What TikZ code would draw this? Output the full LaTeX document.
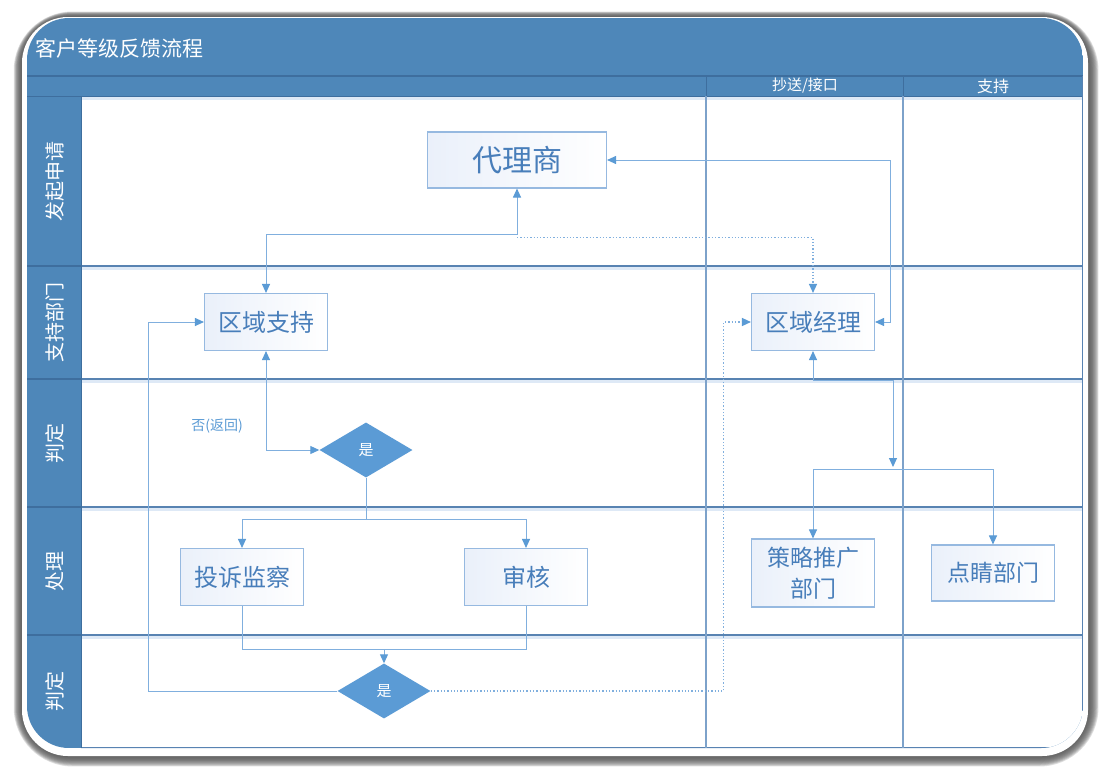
\documentclass[tikz,border=0pt]{standalone}
\usepackage{fontspec}
\setmainfont{Noto Sans CJK SC}
\usetikzlibrary{shapes.geometric,arrows.meta,calc}
\definecolor{band}{RGB}{78,135,185}
\definecolor{bandline}{RGB}{62,110,158}
\definecolor{gridc}{RGB}{88,131,178}
\definecolor{vgrid}{RGB}{125,162,202}
\definecolor{glow}{RGB}{222,233,246}
\definecolor{conn}{RGB}{91,155,213}
\definecolor{connline}{RGB}{128,175,222}
\definecolor{boxline}{RGB}{150,185,224}
\definecolor{boxtext}{RGB}{72,126,186}
\definecolor{boxtint}{RGB}{234,240,250}
\definecolor{shadowgray}{RGB}{90,90,90}
\begin{document}
\begin{tikzpicture}[x=1pt,y=-1pt,
  proc/.style={draw=boxline, line width=1.1pt, left color=boxtint, right color=white,
    text=boxtext, inner sep=0pt, align=center, minimum width=123pt, minimum height=57pt,
    font=\fontsize{24}{31}\selectfont},
  decide/.style={diamond, fill=conn, draw=none, inner sep=0pt, aspect=1.7,
    minimum width=93pt, minimum height=55pt, text=white, font=\fontsize{15}{18}\selectfont},
  lane/.style={rotate=90, text=white, font=\fontsize{20}{24}\selectfont},
  colhead/.style={text=white, font=\fontsize{15}{18}\selectfont},
  link/.style={draw=connline, line width=1pt},
  tip/.style={-{Triangle[length=9pt,width=8pt,color=conn]}},
  tips/.style={{Triangle[length=9pt,width=8pt,color=conn]}-{Triangle[length=9pt,width=8pt,color=conn]}},
  dotlink/.style={draw=connline, line width=1.3pt, dotted}
]
\useasboundingbox (0,0) rectangle (1110,774);
\fill[white] (0,0) rectangle (1110,774);
% soft shadow frame
\foreach \k in {11,10,...,1}{
  \fill[shadowgray, opacity=0.2, rounded corners=48+\k]
    (22-0.75*\k,17-0.5*\k) rectangle (1088+0.95*\k,756+0.95*\k);
}
\fill[white, rounded corners=46] (22,17) rectangle (1088,756);
% table
\begin{scope}
  \clip[rounded corners=42] (27,18) rectangle (1083,748);
  \fill[band] (27,18) rectangle (1083,748);
  \fill[white] (81,96) rectangle (1083,748);
  \fill[glow] (81,97) rectangle (1083,100);
  \draw[bandline, line width=1.2pt] (27,76) -- (1083,76);
  \draw[bandline, line width=1pt] (706,76) -- (706,96) (903,76) -- (903,96);
  \draw[bandline, line width=1pt] (27,96) -- (1083,96);
  \foreach \yy in {266,379,507,635}{
    \fill[glow] (81,\yy) rectangle (1083,\yy+4);
    \draw[gridc, line width=1.3pt] (81,\yy) -- (1083,\yy);
    \draw[bandline, line width=1.3pt] (27,\yy) -- (81,\yy);
  }
  \draw[gridc, line width=1.3pt] (81,748) -- (1083,748);
  \draw[bandline, line width=1pt] (81,96) -- (81,748);
  \draw[gridc, line width=1.3pt] (1082.5,76) -- (1082.5,748);
  \draw[vgrid, line width=1.2pt] (706,96) -- (706,748) (903,96) -- (903,748);
\end{scope}
% headings
\node[anchor=west, text=white, font=\fontsize{21}{24}\selectfont] (title) at (32,48) {客户等级反馈流程};
\node[colhead] (h1) at (805,86) {抄送/接口};
\node[colhead, font=\fontsize{16}{18}\selectfont] (h2) at (993,86) {支持};
\node[lane] (l1) at (55,181) {发起申请};
\node[lane] (l2) at (55,322) {支持部门};
\node[lane] (l3) at (55,443) {判定};
\node[lane] (l4) at (55,571) {处理};
\node[lane] (l5) at (55,691) {判定};
% nodes
\node[proc, minimum width=179pt, minimum height=56pt, font=\fontsize{30}{34}\selectfont] (dl) at (517,160) {代理商};
\node[proc] (qz) at (266,322) {区域支持};
\node[proc] (jl) at (813,322) {区域经理};
\node[decide] (d1) at (366,450) {是};
\node[proc] (ts) at (242,577) {投诉监察};
\node[proc] (sh) at (526,577) {审核};
\node[proc, minimum height=68pt, font=\fontsize{23}{31}\selectfont] (cl) at (813,573) {策略推广\\部门};
\node[proc, minimum height=56pt, font=\fontsize{23}{30}\selectfont] (dj) at (993,573) {点睛部门};
\node[decide] (d2) at (384,691) {是};
\node[text=conn, font=\fontsize{14}{16}\selectfont] (no) at (217,426) {否(返回)};
% connectors
\draw[link, tips] (dl.south) -- ++(0,46) -| (qz.north);
\draw[dotlink, tip] ($(dl.south)+(0,49)$) -| (jl.north);
\draw[link, tips] (dl.east) -- ++(283,0) |- (jl.east);
\coordinate (sj) at (893,469);
\draw[link, tips] (jl.south) |- (893,380) -- ($(sj)+(0,-2)$);
\draw[link, tip] (sj) -| (cl.north);
\draw[link, tip] (sj) -| (dj.north);
\draw[link, tips] (qz.south) |- (d1.west);
\coordinate (s1) at (366,519);
\draw[link] (d1.south) -- (s1);
\draw[link, tip] (s1) -| (ts.north);
\draw[link, tip] (s1) -| (sh.north);
\coordinate (m1) at (384,649);
\draw[link] (ts.south) |- (m1);
\draw[link] (sh.south) |- (m1);
\draw[link, tip] (m1) -- (d2.north);
\draw[link, tip] (d2.west) -- ++(-189,0) |- (qz.west);
\draw[dotlink, tip] (d2.east) -- ++(293,0) |- (jl.west);
\end{tikzpicture}
\end{document}
